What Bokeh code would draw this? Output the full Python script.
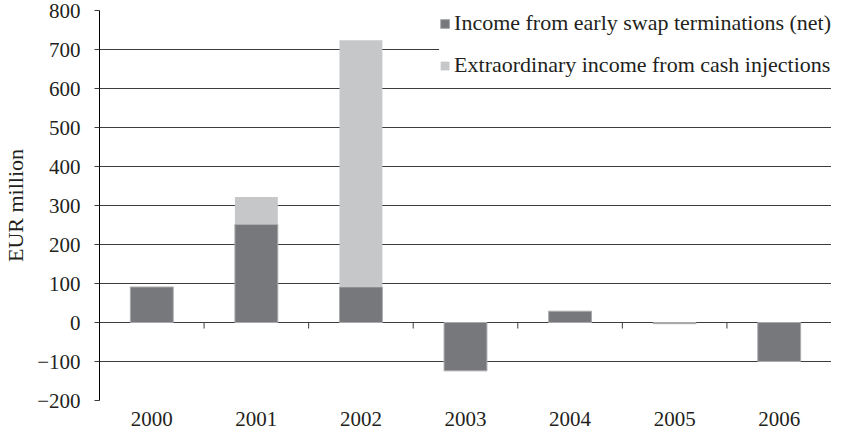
from bokeh.plotting import figure
from bokeh.models import Range1d, FactorRange, ColumnDataSource, Legend, LegendItem, FixedTicker
from bokeh.transform import dodge
from bokeh.embed import file_html
from bokeh.resources import INLINE
import math

years = ["2000", "2001", "2002", "2003", "2004", "2005", "2006"]
swap_income = [91, 252, 91, -124, 29, -3, -100]
cash_injections = [0, 70, 633, 0, 0, 0, 0]
y_ticks = [-200, -100, 0, 100, 200, 300, 400, 500, 600, 700, 800]

FONT = "Liberation Serif"
DARK = "#77787b"
LIGHT = "#c6c7c9"
GRID = "#3c3c3c"
TEXT = "#231f20"

light_top = [d + c for d, c in zip(swap_income, cash_injections)]
src = ColumnDataSource(dict(year=years, dark=swap_income, light_top=light_top,
                            zero=[0] * len(years)))

p = figure(width=831, height=429, x_range=FactorRange(*years, range_padding=0),
           y_range=Range1d(-200, 800), output_backend="svg", toolbar_location=None,
           min_border_left=94, min_border_right=0, min_border_top=10, min_border_bottom=29)
p.outline_line_color = None
p.background_fill_color = "white"

r_dark = p.vbar(x="year", top="dark", bottom="zero", width=0.41, source=src,
                fill_color=DARK, line_color="#a9aaac", line_width=1)
r_light = p.vbar(x="year", top="light_top", bottom="dark", width=0.41, source=src,
                 fill_color=LIGHT, line_color=None)

# category boundary ticks on the zero line
tick_src = ColumnDataSource(dict(year=years[1:], zero=[0] * (len(years) - 1)))
p.ray(x=dodge("year", -0.5, range=p.x_range), y="zero", length=6, length_units="screen",
      angle=-math.pi / 2, source=tick_src, line_color=GRID, line_width=1)

p.yaxis.ticker = FixedTicker(ticks=y_ticks)
p.yaxis.major_label_overrides = {t: ("\u2212" + str(-t) if t < 0 else str(t)) for t in y_ticks}
p.yaxis.axis_label = "EUR million"
p.yaxis.axis_label_text_font = FONT
p.yaxis.axis_label_text_font_style = "normal"
p.yaxis.axis_label_text_font_size = "22px"
p.yaxis.axis_label_text_color = TEXT
p.yaxis.axis_label_standoff = 6
p.yaxis.major_label_text_font = FONT
p.yaxis.major_label_text_font_size = "21px"
p.yaxis.major_label_text_color = TEXT
p.yaxis.major_label_standoff = 14
p.yaxis.axis_line_color = "#000000"
p.yaxis.major_tick_line_color = GRID
p.yaxis.major_tick_out = 5
p.yaxis.major_tick_in = 0
p.yaxis.minor_tick_line_color = None

p.xaxis.axis_line_color = None
p.xaxis.major_tick_line_color = None
p.xaxis.minor_tick_line_color = None
p.xaxis.major_label_text_font = FONT
p.xaxis.major_label_text_font_size = "21px"
p.xaxis.major_label_text_color = TEXT
p.xaxis.major_label_standoff = 5

p.xgrid.grid_line_color = None
p.ygrid.grid_line_color = GRID
p.ygrid.grid_line_width = 1

legend = Legend(items=[
    LegendItem(label="Income from early swap terminations (net)", renderers=[r_dark]),
    LegendItem(label="Extraordinary income from cash injections", renderers=[r_light]),
], location="top_right")
legend.label_text_font = FONT
legend.label_text_font_size = "22px"
legend.label_text_color = TEXT
legend.glyph_width = 11
legend.glyph_height = 11
legend.label_standoff = 4
legend.spacing = 16
legend.padding = 20
legend.margin = 0
legend.border_line_color = None
legend.background_fill_color = "white"
legend.background_fill_alpha = 1
p.add_layout(legend)

open("out.html", "w").write(file_html(p, INLINE))
